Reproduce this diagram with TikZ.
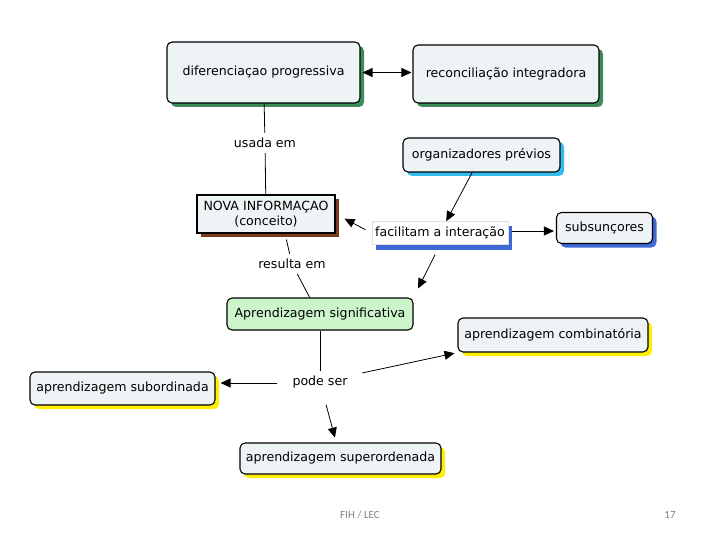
\documentclass[tikz,border=0pt]{standalone}
\usepackage{fontspec}
\setmainfont{DejaVu Sans}
\newfontfamily\footfont{Carlito}
\usetikzlibrary{positioning,arrows.meta,shadows}

\definecolor{boxfill}{HTML}{EEF3F5}
\definecolor{sigfill}{HTML}{CCF5CC}
\definecolor{shgreen}{HTML}{3C8C5A}
\definecolor{shbrown}{HTML}{7A3A1C}
\definecolor{shcyan}{HTML}{33BBEE}
\definecolor{shblue}{HTML}{3F67D8}
\definecolor{shyellow}{HTML}{FFEE00}

\begin{document}
\begin{tikzpicture}[x=1pt,y=-1pt,
  box/.style={draw, rounded corners=5pt, fill=boxfill, line width=1.1pt,
    font=\fontsize{12.6}{14.5}\selectfont, inner sep=0pt},
  sh/.style={drop shadow={shadow xshift=4pt, shadow yshift=-4pt, fill=#1, opacity=1}},
  word/.style={font=\fontsize{12.6}{14.5}\selectfont, inner sep=5pt},
  tip/.style={-{Triangle[length=10pt,width=9pt]}},
  link/.style={line width=0.8pt}]

\useasboundingbox (0,0) rectangle (720,540);

%%% caixas
\node[box, sh=shgreen, minimum width=193, minimum height=61] (dif) at (263.5,72.5) {diferenciaçao progressiva};
\node[box, sh=shgreen, minimum width=186, minimum height=58] (rec) at (506,74) {reconciliação integradora};

\node[box, rounded corners=0pt, line width=1.4pt, sh=shbrown, minimum width=138, minimum height=38,
  align=center] (nova) at (266,214) {NOVA INFORMAÇAO\\(conceito)};

\node[box, sh=shcyan, minimum width=157, minimum height=34] (org) at (481.5,155) {organizadores prévios};
\node[box, rounded corners=0pt, fill=white, draw=gray!25, line width=0.5pt,
  drop shadow={shadow xshift=4pt, shadow yshift=-5pt, fill=shblue, opacity=1},
  minimum width=136, minimum height=23] (fac) at (440,233) {facilitam a interação};
\node[box, sh=shblue, minimum width=96, minimum height=31] (sub) at (604.5,228) {subsunçores};

\node[box, fill=sigfill, minimum width=186, minimum height=32] (sig) at (320,314) {Aprendizagem significativa};

\node[box, sh=shyellow, minimum width=190, minimum height=34] (comb) at (553,335) {aprendizagem combinatória};
\node[box, sh=shyellow, minimum width=185, minimum height=33] (subo) at (122.5,388.5) {aprendizagem subordinada};
\node[box, sh=shyellow, minimum width=201, minimum height=31] (supe) at (340.5,458.5) {aprendizagem superordenada};

%%% frases de ligação
\node[word] (usada) at (265,143) {usada em};
\node[word] (result) at (292,264) {resulta em};
\node[word] (pode) at (320,382) {pode ser};

%%% ligações
\draw[link, {Triangle[length=10pt,width=9pt]}-{Triangle[length=10pt,width=9pt]}, shorten <=2pt, shorten >=1pt]
  (dif.east) -- (dif.east -| rec.west);

\draw[link] (dif) -- (usada);
\draw[link] (usada) -- (nova);

\draw[link, shorten <=6pt] (nova.-46) -- (result);
\draw[link] (result) -- (sig.122);

\draw[link, tip] (org) -- (fac);
\draw[link, tip, shorten <=7pt, shorten >=10pt] (fac.west) -- (nova.east);
\draw[link, tip, shorten <=4pt, shorten >=2pt] (fac.east |- 0,231) -- (sub.west |- 0,231);
\draw[link, tip, shorten <=11pt, shorten >=10pt] (fac.south) -- (sig.north east);

\draw[link] (sig) -- (pode);
\draw[link, tip, shorten <=10pt, shorten >=5pt] (pode.west |- 0,383) -- (subo.east |- 0,383);
\draw[link, tip, shorten <=10pt, shorten >=3pt] (pode) -- (comb.south west);
\draw[link, tip, shorten <=12pt, shorten >=5pt] (pode) -- (supe);

%%% rodapé
\node[font=\footfont\fontsize{11}{13}\selectfont, text=gray] (rod) at (360,515) {FIH / LEC};
\node[font=\footfont\fontsize{11}{13}\selectfont, text=gray] (pag) at (670,515) {17};

\end{tikzpicture}
\end{document}
